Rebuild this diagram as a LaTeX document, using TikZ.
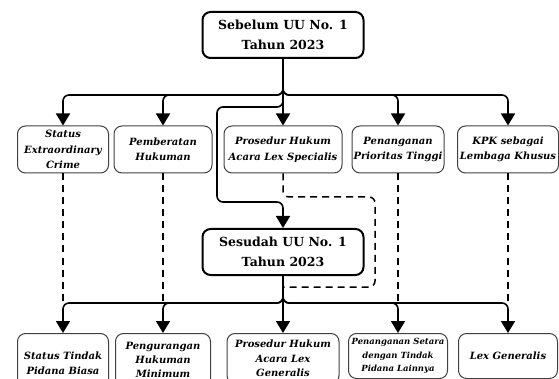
\documentclass[tikz,border=0pt]{standalone}
\usepackage{fontspec}
\setmainfont{DejaVu Serif}
\usepackage{tikz}
\usetikzlibrary{arrows.meta}
\tikzstyle{arrow} = [line width=1.6pt, rounded corners=6pt, -{Triangle[width=14pt,length=12pt]}]
\tikzstyle{dashedline} = [line width=1.5pt, dash pattern=on 7pt off 5pt, rounded corners=6pt]
\tikzstyle{mainRec} = [rectangle, rounded corners=8pt, minimum width=161pt, minimum height=46pt, align=center, draw=black, line width=2pt, font=\fontsize{12.5}{20}\selectfont\bfseries]
\tikzstyle{roundRec} = [rectangle, rounded corners=8pt, minimum height=47pt, align=center, draw=black!75, line width=1pt, inner sep=1pt, font=\fontsize{10}{15.5}\selectfont\bfseries\itshape]

\begin{document}
\begin{tikzpicture}[x=1pt, y=1pt]
	\useasboundingbox (0,0) rectangle (559,-379);
	\node (sebelum) [mainRec] at (283,-35) {Sebelum UU No. 1\\Tahun 2023};
	\node (status) [roundRec, minimum width=91pt] at (63,-149.5) {Status\\Extraordinary\\Crime};
	\node (pemberatan) [roundRec, minimum width=98pt] at (163,-149.5) {Pemberatan\\Hukuman};
	\node (prosedur) [roundRec, minimum width=118pt] at (283,-149.5) {Prosedur Hukum\\Acara Lex Specialis};
	\node (penanganan) [roundRec, minimum width=92pt] at (398,-149.5) {Penanganan\\Prioritas Tinggi};
	\node (kpk) [roundRec, minimum width=101pt] at (508,-149.5) {KPK sebagai\\Lembaga Khusus};
	\node (sesudah) [mainRec] at (283,-252) {Sesudah UU No. 1\\Tahun 2023};
	\node (biasa) [roundRec, anchor=north, minimum width=91pt, minimum height=60pt] at (63,-333) {Status Tindak\\Pidana Biasa};
	\node (pengurangan) [roundRec, anchor=north, minimum width=95pt, minimum height=53pt, font=\fontsize{10}{14}\selectfont\bfseries\itshape] at (163,-333) {Pengurangan\\Hukuman\\Minimum};
	\node (acara) [roundRec, anchor=north, minimum width=112pt, minimum height=50pt, font=\fontsize{10}{14.5}\selectfont\bfseries\itshape] at (283,-333) {Prosedur Hukum\\Acara Lex\\Generalis};
	\node (setara) [roundRec, anchor=north, minimum width=99pt, minimum height=45pt, font=\fontsize{8.5}{13.5}\selectfont\bfseries\itshape] at (398,-333) {Penanganan Setara\\dengan Tindak\\Pidana Lainnya};
	\node (generalis) [roundRec, anchor=north, minimum width=99pt, minimum height=45pt] at (508,-333) {Lex Generalis};
	\coordinate (bus) at (283,-95);
	\coordinate (cabang) at (283,-107);
	\coordinate (belok) at (217,-202);
	\coordinate (putus) at (375,-197);
	\coordinate (putus2) at (375,-287);
	\coordinate (bus2) at (283,-303);
	% sebelum ke baris atas
	\draw [arrow] (sebelum.south) -- (sebelum.south |- bus) -| (status.north);
	\draw [arrow] (sebelum.south) -- (sebelum.south |- bus) -| (pemberatan.north);
	\draw [arrow] (sebelum.south) -- (prosedur.north);
	\draw [arrow] (sebelum.south) -- (sebelum.south |- bus) -| (penanganan.north);
	\draw [arrow] (sebelum.south) -- (sebelum.south |- bus) -| (kpk.north);
	\draw [arrow] (sebelum.south |- bus) -- (cabang) -| (belok) -| (sesudah.north);
	% garis putus-putus
	\draw [dashedline] (prosedur.south) |- (putus) -- (putus2) -- (sesudah.south |- putus2);
	\draw [dashedline] (status.south) -- (status.south |- bus2);
	\draw [dashedline] (pemberatan.south) -- (pemberatan.south |- bus2);
	\draw [dashedline] (penanganan.south) -- (penanganan.south |- bus2);
	\draw [dashedline] (kpk.south) -- (kpk.south |- bus2);
	% sesudah ke baris bawah
	\draw [arrow] (sesudah.south) -- (sesudah.south |- bus2) -| (biasa.north);
	\draw [arrow] (sesudah.south) -- (sesudah.south |- bus2) -| (pengurangan.north);
	\draw [arrow] (sesudah.south) -- (acara.north);
	\draw [arrow] (sesudah.south) -- (sesudah.south |- bus2) -| (setara.north);
	\draw [arrow] (sesudah.south) -- (sesudah.south |- bus2) -| (generalis.north);
\end{tikzpicture}
\end{document}
